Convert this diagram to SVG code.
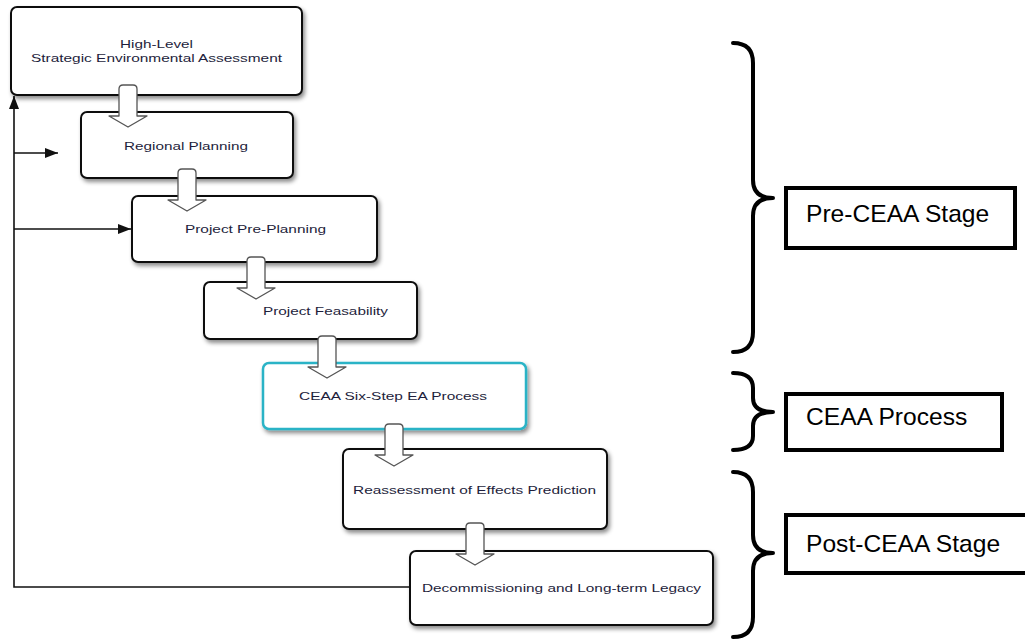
<svg xmlns="http://www.w3.org/2000/svg" width="1025" height="639" viewBox="0 0 1025 639">
<style>
.box{fill:#fff;stroke:#111;stroke-width:2;filter:url(#sh)}
.teal{fill:#fff;stroke:#2ab3c6;stroke-width:2.5;filter:url(#sh)}
.t{font-family:"Liberation Sans",Arial,sans-serif;font-size:11.5px;fill:#1e1e3c}
.lab{fill:#fff;stroke:#000;stroke-width:4}
.lt{font-family:"Liberation Sans",Arial,sans-serif;font-size:24.6px;fill:#000}
.brace{fill:none;stroke:#000;stroke-width:4;stroke-linecap:round;stroke-linejoin:round}
.fb{fill:none;stroke:#111;stroke-width:1.6}
.blk{fill:#fff;stroke:#555;stroke-width:1.3;stroke-linejoin:round}
</style>
<defs>
<filter id="sh" x="-10%" y="-20%" width="125%" height="150%">
<feDropShadow dx="2" dy="3" stdDeviation="2" flood-color="#000" flood-opacity="0.45"/>
</filter>
<marker id="ah" markerUnits="userSpaceOnUse" markerWidth="14" markerHeight="10" refX="13" refY="5" orient="auto">
<path d="M0,0 L13,5 L0,10 z" fill="#111"/>
</marker>
<path id="ba" d="M-9,4 Q-9,0 -5,0 L5,0 Q9,0 9,4 L9,31 L19,31 L0,42 L-19,31 L-9,31 Z"/>
</defs>

<g id="connectors">
<path class="fb" d="M410,587 L14,587 L14,96" marker-end="url(#ah)"/>
<path class="fb" d="M14,153 L58,153" marker-end="url(#ah)"/>
<path class="fb" d="M14,229 L131,229" marker-end="url(#ah)"/>
</g>

<g id="n1"><rect class="box" x="11" y="7" width="291" height="88" rx="6"/>
<text class="t" x="120" y="48" textLength="73" lengthAdjust="spacingAndGlyphs">High-Level</text>
<text class="t" x="31" y="62" textLength="251" lengthAdjust="spacingAndGlyphs">Strategic Environmental Assessment</text></g>
<g id="n2"><rect class="box" x="81" y="112" width="212" height="66" rx="6"/>
<text class="t" x="124" y="150" textLength="124" lengthAdjust="spacingAndGlyphs">Regional Planning</text></g>
<g id="n3"><rect class="box" x="132" y="196" width="245" height="66" rx="6"/>
<text class="t" x="185" y="233" textLength="141" lengthAdjust="spacingAndGlyphs">Project Pre-Planning</text></g>
<g id="n4"><rect class="box" x="204" y="282" width="213" height="57" rx="6"/>
<text class="t" x="263" y="315" textLength="125" lengthAdjust="spacingAndGlyphs">Project Feasability</text></g>
<g id="n5"><rect class="teal" x="263" y="363" width="263" height="66" rx="6"/>
<text class="t" x="299" y="400" textLength="188" lengthAdjust="spacingAndGlyphs">CEAA Six-Step EA Process</text></g>
<g id="n6"><rect class="box" x="343" y="449" width="264" height="80" rx="6"/>
<text class="t" x="353" y="494" textLength="243" lengthAdjust="spacingAndGlyphs">Reassessment of Effects Prediction</text></g>
<g id="n7"><rect class="box" x="410" y="551" width="303" height="74" rx="6"/>
<text class="t" x="422" y="592" textLength="279" lengthAdjust="spacingAndGlyphs">Decommissioning and Long-term Legacy</text></g>

<g id="flow-arrows">
<use href="#ba" class="blk" transform="translate(128,85)"/>
<use href="#ba" class="blk" transform="translate(187,169)"/>
<use href="#ba" class="blk" transform="translate(256,257)"/>
<use href="#ba" class="blk" transform="translate(327,336)"/>
<use href="#ba" class="blk" transform="translate(394,424)"/>
<use href="#ba" class="blk" transform="translate(475,523)"/>
</g>

<g id="stage-pre">
<path class="brace" d="M733,43 Q753,43 753,63 L753,180 Q753,198 773,198 Q753,198 753,216 L753,332 Q753,352 733,352"/>
<rect class="lab" x="786" y="188" width="229" height="60"/>
<text class="lt" x="806" y="222">Pre-CEAA Stage</text>
</g>
<g id="stage-ceaa">
<path class="brace" d="M733,373 Q753,373 753,388 L753,398 Q753,412 773,412 Q753,412 753,426 L753,436 Q753,450 733,450"/>
<rect class="lab" x="786" y="394" width="216" height="56"/>
<text class="lt" x="806" y="425">CEAA Process</text>
</g>
<g id="stage-post">
<path class="brace" d="M733,472 Q753,472 753,492 L753,535 Q753,553 773,553 Q753,553 753,571 L753,617 Q753,637 733,637"/>
<rect class="lab" x="786" y="515" width="245" height="58"/>
<text class="lt" x="806" y="552">Post-CEAA Stage</text>
</g>
</svg>
